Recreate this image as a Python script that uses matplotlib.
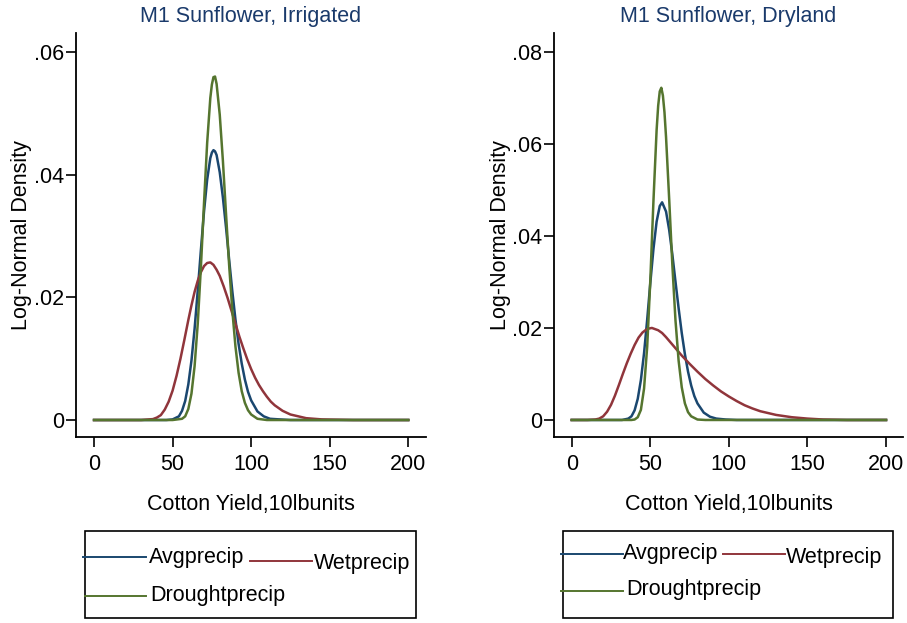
import matplotlib
matplotlib.use('Agg')
import matplotlib.pyplot as plt
from matplotlib.lines import Line2D
from matplotlib.patches import Rectangle

plt.rcParams['font.family'] = ['Liberation Sans', 'DejaVu Sans']

# ---- data (x = cotton yield, y = density) ----
# Irrigated panel
irr_avg_x = [0, 46, 50, 54, 56, 58, 60, 62, 64, 66, 68, 70, 72, 74, 75, 76, 77, 78, 80, 82, 84,
             86, 88, 90, 92, 94, 96, 98, 100, 104, 108, 112, 118, 125, 200]
irr_avg_y = [0, 0, 0.0001, 0.0006, 0.0015, 0.0031, 0.0058, 0.0097, 0.0149, 0.0211, 0.0277, 0.0340,
             0.0392, 0.0427, 0.0436, 0.0440, 0.0438, 0.0432, 0.0404, 0.0363, 0.0314, 0.0261, 0.0210,
             0.0164, 0.0124, 0.0092, 0.0066, 0.0046, 0.0032, 0.0014, 0.0006, 0.0002, 0.0001, 0, 0]

irr_wet_x = [0, 30, 35, 37.5, 40, 42.5, 45, 47.5, 50, 52.5, 55, 57.5, 60, 62, 64, 66, 68, 70, 72,
             74, 76, 78, 80, 82.5, 85, 87.5, 90, 92.5, 95, 97.5, 100, 102.5, 105, 107.5, 110,
             112.5, 115, 120, 125, 130, 135, 140, 145, 150, 165, 200]
irr_wet_y = [0, 0, 0.0001, 0.00015, 0.0004, 0.0008, 0.0017, 0.0030, 0.0048, 0.0072, 0.0100,
             0.0131, 0.0163, 0.0187, 0.0209, 0.0227, 0.0241, 0.0251, 0.0256, 0.0257, 0.0253,
             0.0245, 0.0235, 0.0218, 0.0199, 0.0178, 0.0157, 0.0136, 0.0117, 0.0099, 0.0083,
             0.0069, 0.0057, 0.0047, 0.0038, 0.0030, 0.0024, 0.0015, 0.0009, 0.0006, 0.0003,
             0.0002, 0.0001, 0.00007, 0, 0]

irr_drought_x = [0, 50, 56, 58, 60, 62, 64, 66, 68, 70, 72, 74, 75, 76, 77, 78, 80, 82, 84, 86,
                 88, 90, 92, 94, 96, 98, 100, 104, 110, 200]
irr_drought_y = [0, 0, 0.0002, 0.0006, 0.0018, 0.0043, 0.0088, 0.0157, 0.0249, 0.0354, 0.0452,
                 0.0525, 0.0547, 0.0559, 0.0560, 0.0548, 0.0498, 0.0423, 0.0336, 0.0252, 0.0179,
                 0.0120, 0.0077, 0.0047, 0.0028, 0.0016, 0.0009, 0.0002, 0, 0]

# Dryland panel
dry_avg_x = [0, 32, 36, 38, 40, 42, 44, 46, 48, 50, 52, 54, 56, 57.5, 60, 62, 64, 66, 68, 70,
             72, 74, 76, 78, 80, 84, 88, 92, 98, 105, 200]
dry_avg_y = [0, 0, 0.0003, 0.0008, 0.0021, 0.0046, 0.0087, 0.0145, 0.0218, 0.0298, 0.0372,
             0.0431, 0.0465, 0.0473, 0.0453, 0.0413, 0.0360, 0.0301, 0.0243, 0.0189, 0.0143,
             0.0105, 0.0075, 0.0052, 0.0036, 0.0016, 0.0007, 0.0003, 0.0001, 0, 0]

dry_wet_x = [0, 10, 15, 17.5, 20, 22.5, 25, 27.5, 30, 32.5, 35, 37.5, 40, 42.5, 45, 48, 51, 55,
             57.5, 60, 62.5, 65, 67.5, 70, 72.5, 75, 80, 85, 90, 95, 100, 105, 110, 115, 120,
             130, 140, 150, 160, 175, 200]
dry_wet_y = [0, 0, 0.0001, 0.0003, 0.0008, 0.0018, 0.0033, 0.0053, 0.0076, 0.0100, 0.0123,
             0.0144, 0.0163, 0.0179, 0.0190, 0.0198, 0.0200, 0.0195, 0.0189, 0.0180, 0.0170,
             0.0160, 0.0150, 0.0140, 0.0131, 0.0122, 0.0105, 0.0089, 0.0075, 0.0062, 0.0051,
             0.0041, 0.0032, 0.0025, 0.0019, 0.0011, 0.0006, 0.0003, 0.0001, 0, 0]

dry_drought_x = [0, 38, 40, 42, 44, 46, 48, 50, 52, 54, 55, 56, 57, 58, 59, 60, 62, 64, 66, 68,
                 70, 72, 74, 76, 80, 85, 200]
dry_drought_y = [0, 0, 0.0001, 0.0006, 0.0022, 0.0068, 0.0159, 0.0304, 0.0477, 0.0630, 0.0683,
                 0.0714, 0.0722, 0.0705, 0.0669, 0.0615, 0.0480, 0.0338, 0.0217, 0.0129, 0.0071,
                 0.0036, 0.0017, 0.0008, 0.0001, 0, 0]

x_ticks = [0, 50, 100, 150, 200]
irr_yticks = [0, 0.02, 0.04, 0.06]
irr_ylabels = ['0', '.02', '.04', '.06']
dry_yticks = [0, 0.02, 0.04, 0.06, 0.08]
dry_ylabels = ['0', '.02', '.04', '.06', '.08']

series_names = ['Avgprecip', 'Wetprecip', 'Droughtprecip']

# Stata s2color palette
C_AVG = '#1a476f'
C_WET = '#90353b'
C_DRY = '#55752f'
C_TITLE = '#1a3a6b'

W, H = 907, 623
FS = 15.5
LW = 1.8

fig = plt.figure(figsize=(9.07, 6.23), dpi=100)


def fx(px):
    return px / W


def fy(py):
    return 1 - py / H


def make_axes(left, right, top, bottom):
    return fig.add_axes([fx(left), fy(bottom), fx(right) - fx(left), fy(top) - fy(bottom)])


def setup_panel(ax, title, yticks, ylabels, xlim, ylim, ylab_x):
    ax.set_xlim(*xlim)
    ax.set_ylim(*ylim)
    ax.spines['top'].set_visible(False)
    ax.spines['right'].set_visible(False)
    for s in ['left', 'bottom']:
        ax.spines[s].set_linewidth(1.3)
    ax.set_xticks(x_ticks)
    ax.set_yticks(yticks)
    ax.set_yticklabels(ylabels)
    ax.tick_params(axis='both', direction='out', length=7.5, width=1.2, labelsize=FS)
    ax.tick_params(axis='x', pad=4.5)
    ax.tick_params(axis='y', pad=1)
    ax.text(0.5, 1.04, title, transform=ax.transAxes, ha='center', va='center',
            fontsize=FS, color=C_TITLE)
    ax.set_xlabel('Cotton Yield,10lbunits', fontsize=FS)
    ax.xaxis.set_label_coords(0.5, -0.168)
    ax.xaxis.label.set_va('center')
    ax.set_ylabel('Log-Normal Density', fontsize=FS)
    ax.yaxis.set_label_coords(ylab_x, 0.5)
    ax.yaxis.label.set_va('center')


def draw_legend(box, rows):
    x0, x1, y0, y1 = box
    fig.add_artist(Rectangle((fx(x0), fy(y1)), fx(x1) - fx(x0), fy(y0) - fy(y1),
                             transform=fig.transFigure, fill=False, edgecolor='black', linewidth=1.2))
    for (lx0, lx1, ly, color, tx, ty, label) in rows:
        fig.add_artist(Line2D([fx(lx0), fx(lx1)], [fy(ly), fy(ly)], transform=fig.transFigure,
                              color=color, linewidth=1.4))
        fig.text(fx(tx), fy(ty), label, ha='left', va='center', fontsize=FS)


# ---- left panel: irrigated ----
ax1 = make_axes(76, 426, 33, 437)
ax1.plot(irr_avg_x, irr_avg_y, color=C_AVG, lw=LW)
ax1.plot(irr_wet_x, irr_wet_y, color=C_WET, lw=LW)
ax1.plot(irr_drought_x, irr_drought_y, color=C_DRY, lw=LW)
setup_panel(ax1, 'M1 Sunflower, Irrigated', irr_yticks, irr_ylabels,
            (-11.5, 211.3), (-0.00277, 0.0631), -0.157)

draw_legend((85, 416, 531, 618), [
    (83, 146, 557, C_AVG, 149, 558, series_names[0]),
    (250, 312, 561, C_WET, 314, 563, series_names[1]),
    (85, 146, 596, C_DRY, 150, 596, series_names[2]),
])

# ---- right panel: dryland ----
ax2 = make_axes(554, 903, 33, 437)
ax2.plot(dry_avg_x, dry_avg_y, color=C_AVG, lw=LW)
ax2.plot(dry_wet_x, dry_wet_y, color=C_WET, lw=LW)
ax2.plot(dry_drought_x, dry_drought_y, color=C_DRY, lw=LW)
setup_panel(ax2, 'M1 Sunflower, Dryland', dry_yticks, dry_ylabels,
            (-11.3, 210.8), (-0.0037, 0.0841), -0.153)

draw_legend((563, 893, 531, 618), [
    (561, 623, 554, C_AVG, 623, 553, series_names[0]),
    (723, 785, 554, C_WET, 786, 557, series_names[1]),
    (561, 623, 591, C_DRY, 626, 590, series_names[2]),
])

fig.savefig('out.png', dpi=100)
